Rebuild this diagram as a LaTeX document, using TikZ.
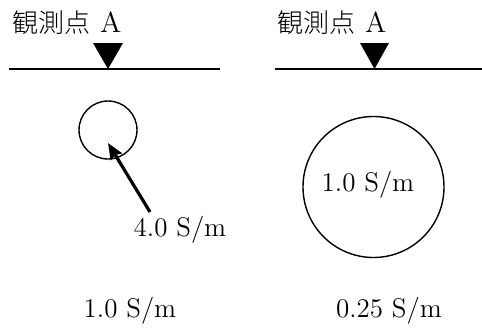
\documentclass[tikz,border=0pt]{standalone}
\usepackage{fontspec}
\newfontfamily\jpfont{Noto Sans CJK JP Light}
\usetikzlibrary{arrows.meta}

\begin{document}
\begin{tikzpicture}[x=0.5pt, y=-0.5pt, line width=0.7pt,
    font=\fontsize{13.5}{16}\selectfont,
    lbl/.style={inner sep=0pt},
    obs/.style={inner sep=0pt, font=\fontsize{14.5}{16}\selectfont},
    body/.style={circle, draw, inner sep=0pt}]
    \useasboundingbox (0,0) rectangle (482,327);
    % gauche : petit corps conducteur
    \node[obs] (obsL) at (67,23) {{\jpfont\fontsize{13}{16}\selectfont 観測点} A};
    \coordinate (gL1) at (9,69); \coordinate (gL2) at (220,69);
    \draw (gL1) -- (gL2);
    \fill (93,43) -- (123,43) -- (108,69) -- cycle;
    \node[body, minimum size=29pt] (smallB) at (108,130) {};
    \node[lbl] (valS) at (180,230) {4.0 S/m};
    \coordinate (tail) at (150,212); \coordinate (tip) at (108,143);
    \draw[line width=1.6pt, -{Stealth[length=8pt, width=6.5pt, inset=1pt]}] (tail) -- (tip);
    \node[lbl] (mediumL) at (130,311) {1.0 S/m};
    % droite : grand corps
    \node[obs] (obsR) at (332,23) {{\jpfont\fontsize{13}{16}\selectfont 観測点} A};
    \coordinate (gR1) at (275,69); \coordinate (gR2) at (482,69);
    \draw (gR1) -- (gR2);
    \fill (360,43) -- (389,43) -- (374.5,69) -- cycle;
    \node[body, minimum size=70.5pt] (bigB) at (373.5,187) {};
    \node[lbl] (valB) at (368,185) {1.0 S/m};
    \node[lbl] (mediumR) at (389,311) {0.25 S/m};
\end{tikzpicture}
\end{document}
